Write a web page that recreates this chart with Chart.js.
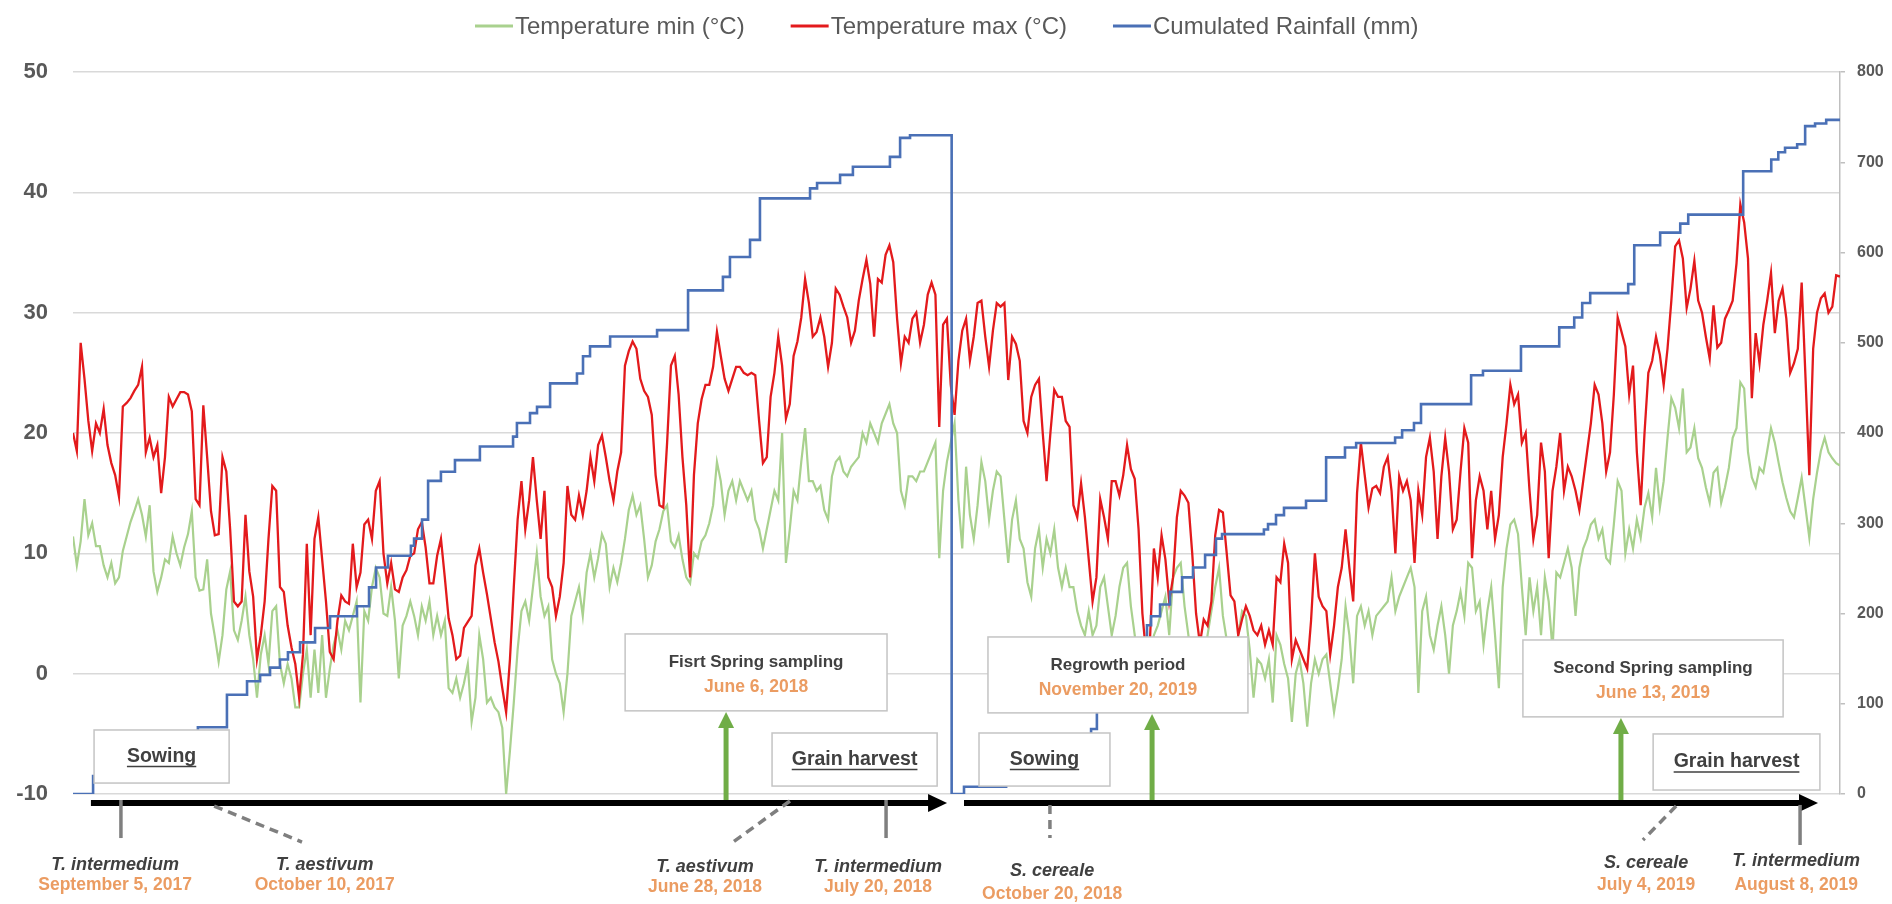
<!DOCTYPE html>
<html>
<head>
<meta charset="utf-8">
<script src="https://cdn.jsdelivr.net/npm/chart.js@4.4.0/dist/chart.umd.min.js"></script>
<style>
html,body{margin:0;padding:0;background:#ffffff;}
#wrap{width:1892px;height:904px;position:relative;}
</style>
</head>
<body>
<div id="wrap"><canvas id="c"></canvas></div>
<script>
// ---------------- DATA ----------------
const seriesLabels = ['Temperature min (°C)', 'Temperature max (°C)', 'Cumulated Rainfall (mm)'];
const periodDays = 730; // Sep 2017 -> Aug 2019, daily record read at regular intervals

// daily maximum temperature (°C), read at regular intervals across the two seasons
const tMax = [
20,18.5,27.5,24.5,21,18.5,20.8,20,22,19,
17.5,16.5,14.7,22.2,22.5,22.9,23.5,24,25.5,18.4,
19.6,18,19,15,18,23,22.2,22.8,23.4,23.4,
23.2,21.8,14.5,14,22.3,18,13.5,11.5,11.6,18,
16.8,12,
6,5.6,6,13.2,8.5,6.4,1.2,3.2,6,11.2,
15.6,15.2,7.2,6.8,4,2.2,0.8,-2,1.6,10.8,
3.2,11.2,13,9.5,6,1.8,1.2,4.4,6.5,6,
5.8,10.8,7.2,8.4,12.4,12.8,11.2,15.2,16,10,
7.5,9.2,7,6.8,8,8.6,9.8,10,12,12.6,
10.5,7.5,7.5,9.8,11.2,8,4.6,3.2,1.2,1.5,
3.8,4.3,4.8,9,10.4,8.4,6.6,4.6,2.6,1,
-1.2,-3.2,1.2,7.2,12.8,16,12,14.4,18,14.4,
11.2,15.2,8,7.2,4.8,6.4,9.2,15.6,13.2,12.8,
14.8,13.2,15.2,18,16,19,19.8,18,16,14.4,
16.8,18.4,25.6,26.8,27.6,27,24.5,23.5,23,
21.5,16.5,14,13.8,19.2,25.6,26.4,23.2,18,14,
8,16.5,20.8,22.8,24,24,25.5,28.4,26.4,24.5,
23.5,24.5,25.5,25.5,25,24.8,25,24.8,21,17.5,
18,23,25,28,25.6,21.2,22.4,26.4,27.6,29.6,
32.8,30.8,28,28.4,29.6,28,25.5,27.5,32,31.5,
30.5,29.6,27.5,28.5,31,32.8,34.4,32.4,28,32.8,
32.5,34.8,35.6,34.2,29.5,25.8,28,27.5,29.5,30,
27.5,29,31.5,32.5,31.5,20.5,29,29.5,24,21.5,
26,28.5,29.5,26,28,30.8,31,28,25.5,28.5,
30.8,30.5,30.8,24.4,28,27.4,26,21,20,23,
24,24.5,20,16,20,23.6,23,23,21,20.5,
14,13,15.8,13,9.5,6,8,14.5,13,11.2,
16,16,14.8,16.5,19,17,16.2,12,5,1.5,
3,10.4,8,11.5,9.5,6,8,13,15.2,14.8,
14.2,10,5,2.5,4.5,4,6,11.5,13.6,13.4,
10,6.5,
6,3.2,4.5,5.6,4.8,3.6,3.2,4,2.4,3.6,
2.4,8,7.6,10.8,9.2,1.2,2.8,2,1.2,0.4,
4.4,10,6.4,5.6,5.2,1.6,4,7.2,8.8,12,
8.8,6,15,19.2,16.5,13.8,15.4,15.6,15,17.2,
18,15.2,10,16.4,15.2,16,14.4,9.2,15.2,13.2,
18,19.6,16.8,11.2,16.4,19.6,16.8,12,12.8,16.8,
20.4,19.2,9.6,14.4,16.4,15.2,12,15.2,11.2,13.2,
18,20.8,24,22.4,23.2,19.2,20,15.2,11.2,13.2,
19.2,16.8,9.6,15.2,17.2,20,15.2,17.2,16.4,15.2,
13.6,16,18.4,20.8,24,23.2,20.8,16.8,18.4,23.2,
29.6,28.4,27.2,23.2,25.6,18.4,
14,20,25,26,28,26.5,24,27,31,35.5,
36,34.5,30.4,32,34.3,31,30,28,26.2,30.6,
27.1,27.5,29.5,30.2,31,34.1,39,37.5,34.5,22.9,
28.3,25.8,29,31,33.3,28.3,31,32,29.5,25,
25.8,27,32.5,24.6,16.5,27,30,31.2,31.6,30,
30.5,33.1,33
];

// daily minimum temperature (°C), same sampling
const tMin = [
11.4,9,11,14.5,11.5,12.5,10.6,10.6,9,8,
9.2,7.5,8,10.2,11.4,12.6,13.5,14.5,13.2,11.4,
14,8.5,6.8,8,9.5,9.2,11.4,10,9,10.5,
11.6,13.5,8,6.9,7,9.5,5,3.1,1,3.2,
7,8.5,
3.6,2.8,4.4,6.4,3.2,1.2,-2,1.6,3.2,0.8,
5.2,5.6,0.8,-0.8,0.8,-0.4,-2.8,-2.8,0,2,
-2,2,-1.6,3.2,-2,0.4,2.4,3.6,2,4.4,
3.6,4.8,6,-2.4,5.2,4.4,7.2,8.8,8,5,
4.8,7.2,4.4,-0.4,4,4.8,6,4.8,3.2,5.6,
4.4,6,3.2,4.8,3.2,4.4,-1.2,-1.6,-0.4,-2,
-0.8,0.8,-4,-2,3.2,1.2,-2.4,-2,-2.8,-3.2,
-4.5,-10,-6.4,-2.4,2,5.2,6,4.4,7.2,10,
6.4,4.8,5.6,1.2,0,-0.8,-3.2,0,4.8,6,
7.2,4.8,8.4,10,8,9.6,11.6,10.8,7.2,8.8,
7.6,9.2,11.2,13.6,14.8,13.2,14,11.2,8,
9,11,12,13.5,14,11,10.5,11.5,9.5,8,
7.5,10,9.6,11,11.5,12.5,14,17.6,16,13.2,
15.2,16,14.4,16,15.2,14.4,15.2,12.8,12,10.4,
12,13.6,15.2,14.4,20,9.2,12,15.2,14.4,17.6,
20.4,16,16,15.2,15.6,13.6,12.8,16.4,17.6,18,
16.8,16.4,17.2,17.6,18,20,19.2,20.8,20,19.2,
20.8,21.6,22.4,20.8,20,15.2,14,16.4,16.4,16,
16.8,16.8,17.6,18.4,19.2,9.6,15.2,17.6,19.2,20.8,
14.4,10.4,17.2,13.2,11.2,14,17.6,16,12.8,15.2,
16.8,16.4,12.8,9.2,12.8,14.4,11.2,10.4,7.6,6.4,
10.4,12,8.8,11.2,10,12,8.8,7.2,8.8,7.2,
7.2,5.2,4,3.2,5.2,3.2,4,7.2,8,5.6,
3.2,4.8,7.2,8.8,9.2,5.6,3.2,0,-2.8,-1.6,
0,3.2,4,5.2,6.4,3.2,8,8.8,9.2,5.6,
3.2,0,-0.8,-2,0.8,3.2,5.2,7.2,8.8,4.8,
2.8,1.2,
1.2,3.2,5.2,4.8,2,-2,1.2,0.8,-0.4,1.2,
-2.4,3.2,2.4,0.8,-0.4,-4,0,1.2,-0.8,-4.4,
-0.8,1.2,0,1.2,1.6,-0.8,-3.2,-1.2,1.2,5.6,
3.2,-0.8,4.8,5.6,4,5.2,3.2,4.8,5.2,5.6,
6,8,5.2,6.4,7.2,8,8.8,7.2,-1.6,5.2,
6.4,3.2,2,4,5.6,3.2,0,4,5.2,6.8,
4.8,9.2,8.8,5.2,6,2.4,5.2,7.2,3.2,-1.2,
7.2,10.4,12.4,12.8,11.6,7.2,3.2,8,5.2,7.2,
3.2,8,6,2,8.4,8,9.2,10.4,8.8,4.8,
8.8,10.4,11.2,12.4,12.8,11.2,12,9.6,9.2,12.4,
16,15.2,10,12,10.4,12.8,
11.3,13.8,15,13,17.1,13.8,16,19.6,22.9,22.1,
20.4,23.7,18.4,18.8,20.4,17.9,17.1,15.5,14.2,16.7,
17.1,14.2,15.5,17.1,19.6,20.4,24.2,23.7,18.4,16.3,
15.5,17.1,16.7,18.5,20.4,19.2,17.5,15.9,14.6,13.5,
13,14.6,16.3,13.8,11.3,14.5,16.7,18.5,19.6,18.4,
17.9,17.5,17.3
];

// cumulated rainfall (mm): day of each rain step and running total after it (reset Sep 2018)
const rainDay = [
0,8.3,23.5,40.1,51.6,63.6,71.9,77.3,81.4,85.5,
88.8,93.8,100.0,106.2,117.3,122.3,125.2,130.1,139.6,140.9,
144.2,146.7,152.0,157.8,168.1,181.8,183.4,188.8,191.7,197.1,
208.2,210.7,213.6,221.9,241.3,254.1,268.5,271.4,279.7,283.8,
304.5,307.4,316.9,322.2,337.5,341.7,345.8,363.0,368.1,
385.5,399.5,411.9,420.6,423.0,430.5,437.5,443.7,445.4,449.1,
453.2,458.2,462.7,467.7,472.2,474.7,492.0,493.7,497.0,500.3,
509.4,517.7,525.5,530.1,546.2,549.1,554.0,556.9,577.6,582.5,
598.2,614.0,620.2,623.5,626.8,642.5,645.0,655.7,664.0,667.3,
690.0,701.6,704.5,707.3,712.3,715.6,719.7,724.3,730
];
const rainCum = [
0,20,35,52,74,110,125,132,140,149,
157,168,184,197,208,229,251,264,275,283,
304,347,357,370,385,396,411,422,429,455,
466,485,496,507,514,558,573,595,614,660,
671,677,686,695,706,727,730,0,8,
14,35,55,72,92,125,160,187,197,210,
224,240,251,265,283,288,293,299,309,317,
325,373,384,389,395,403,411,432,464,469,
496,517,528,544,555,565,608,622,632,642,
690,703,711,716,720,740,743,747,748
];

// axis ranges / ticks
const tempRange = [-10, 50];
const tempStep = 10;
const rainRange = [0, 800];
const rainStep = 100;

// ---------------- ANNOTATIONS (schematic timeline, in day / °C units) ----------------
const noteBoxes = [
  {d:[8.7,64.5],   v:[-4.68,-9.09], title:'Sowing', underline:true},
  {d:[228.1,336.3],v:[3.30,-3.09],  title:'Fisrt Spring sampling', date:'June 6, 2018'},
  {d:[288.8,357.0],v:[-4.93,-9.34], title:'Grain harvest', underline:true},
  {d:[374.3,428.4],v:[-4.93,-9.34], title:'Sowing', underline:true},
  {d:[378.0,485.4],v:[3.05,-3.26],  title:'Regrowth period', date:'November 20, 2019'},
  {d:[599.0,706.5],v:[2.80,-3.59],  title:'Second Spring sampling', date:'June 13, 2019'},
  {d:[652.8,721.7],v:[-5.01,-9.67], title:'Grain harvest', underline:true}
];
const samplingArrows = [ {d:269.8, top:-3.18}, {d:445.8, top:-3.35}, {d:639.5, top:-3.68} ];
const timelines = [ {d0:7.4, d1:361.1}, {d0:368.1, d1:720.9} ];
const timelineLevel = -10.75;
const marks = [
  {d0:19.8, v0:-10.5, d1:19.8, v1:-13.66, dash:false},
  {d0:58.3, v0:-11.0, d1:94.6, v1:-13.99, dash:true},
  {d0:296.2,v0:-10.58,d1:272.7,v1:-13.99, dash:true},
  {d0:335.9,v0:-10.5, d1:335.9,v1:-13.66, dash:false},
  {d0:403.6,v0:-10.91,d1:403.6,v1:-13.66, dash:true},
  {d0:662.3,v0:-11.0, d1:648.6,v1:-13.82, dash:true},
  {d0:713.5,v0:-10.91,d1:713.5,v1:-14.24, dash:false}
];
const markLabels = [
  {d:17.4,  v:[-15.90,-17.56], name:'T. intermedium', date:'September 5, 2017'},
  {d:104.0, v:[-15.90,-17.56], name:'T. aestivum',    date:'October 10, 2017'},
  {d:261.1, v:[-16.07,-17.73], name:'T. aestivum',    date:'June 28, 2018'},
  {d:332.6, v:[-16.07,-17.73], name:'T. intermedium', date:'July 20, 2018'},
  {d:404.5, v:[-16.40,-18.31], name:'S. cereale',     date:'October 20, 2018'},
  {d:649.9, v:[-15.73,-17.56], name:'S. cereale',     date:'July 4, 2019'},
  {d:711.9, v:[-15.57,-17.56], name:'T. intermedium', date:'August 8, 2019'}
];

// ---------------- STYLE ----------------
const FONT = '"Liberation Sans", Arial, sans-serif';
const colMin = '#a9d18e', colMax = '#e31a1c', colRain = '#4a70b6';
const colText = '#404040', colAxis = '#595959', colDate = '#eb9c62';

const tempX = tMax.map((_, i) => i * periodDays / (tMax.length - 1));

function drawText(ctx, s, px, py, font, color, underline) {
  ctx.font = font; ctx.fillStyle = color;
  ctx.textAlign = 'center'; ctx.textBaseline = 'middle';
  ctx.fillText(s, px, py);
  if (underline) {
    const w = ctx.measureText(s).width;
    ctx.strokeStyle = color; ctx.lineWidth = 1.6; ctx.setLineDash([]);
    ctx.beginPath(); ctx.moveTo(px - w/2, py + 10); ctx.lineTo(px + w/2, py + 10); ctx.stroke();
  }
}

const annotPlugin = {
  id: 'annot',
  afterDatasetsDraw(chart) {
    const ctx = chart.ctx, xs = chart.scales.x, ys = chart.scales.y;
    const X = d => xs.getPixelForValue(d), Y = v => ys.getPixelForValue(v);
    ctx.save();
    // boxes
    noteBoxes.forEach(b => {
      const x0 = X(b.d[0]), x1 = X(b.d[1]), y0 = Y(b.v[0]), y1 = Y(b.v[1]);
      ctx.fillStyle = '#ffffff'; ctx.fillRect(x0, y0, x1 - x0, y1 - y0);
      ctx.strokeStyle = '#c4c4c4'; ctx.lineWidth = 1.5; ctx.setLineDash([]);
      ctx.strokeRect(x0, y0, x1 - x0, y1 - y0);
      const cx = (x0 + x1) / 2;
      if (b.date) {
        drawText(ctx, b.title, cx, y0 + 28, 'bold 17px ' + FONT, colText, false);
        drawText(ctx, b.date, cx, y0 + 53, 'bold 17.5px ' + FONT, colDate, false);
      } else {
        drawText(ctx, b.title, cx, (y0 + y1) / 2, 'bold 19.5px ' + FONT, colText, b.underline);
      }
    });
    // timeline arrows
    const ty = Y(timelineLevel);
    timelines.forEach(t => {
      const a = X(t.d0), b = X(t.d1);
      ctx.strokeStyle = '#000'; ctx.lineWidth = 6; ctx.setLineDash([]);
      ctx.beginPath(); ctx.moveTo(a, ty); ctx.lineTo(b - 16, ty); ctx.stroke();
      ctx.fillStyle = '#000';
      ctx.beginPath(); ctx.moveTo(b, ty); ctx.lineTo(b - 19, ty - 9); ctx.lineTo(b - 19, ty + 9); ctx.closePath(); ctx.fill();
    });
    // sampling arrows (green)
    samplingArrows.forEach(s => {
      const px = X(s.d), top = Y(s.top), bot = ty - 3;
      ctx.strokeStyle = '#70ad47'; ctx.lineWidth = 5; ctx.setLineDash([]);
      ctx.beginPath(); ctx.moveTo(px, bot); ctx.lineTo(px, top + 14); ctx.stroke();
      ctx.fillStyle = '#70ad47';
      ctx.beginPath(); ctx.moveTo(px, top); ctx.lineTo(px - 8, top + 16); ctx.lineTo(px + 8, top + 16); ctx.closePath(); ctx.fill();
    });
    // marks under the timeline
    marks.forEach(m => {
      ctx.strokeStyle = '#7f7f7f'; ctx.lineWidth = 3.5;
      ctx.setLineDash(m.dash ? [9, 6] : []);
      ctx.beginPath(); ctx.moveTo(X(m.d0), Y(m.v0)); ctx.lineTo(X(m.d1), Y(m.v1)); ctx.stroke();
    });
    ctx.setLineDash([]);
    markLabels.forEach(l => {
      drawText(ctx, l.name, X(l.d), Y(l.v[0]), 'italic bold 18px ' + FONT, colText, false);
      drawText(ctx, l.date, X(l.d), Y(l.v[1]), 'bold 17.5px ' + FONT, colDate, false);
    });
    ctx.restore();
  },
  afterDraw(chart) {
    // legend (line samples + text)
    const ctx = chart.ctx;
    ctx.save();
    ctx.font = '24px ' + FONT;
    ctx.textAlign = 'left'; ctx.textBaseline = 'middle';
    let lx = 475; const ly = 26;
    seriesLabels.forEach(lab => {
      const ds = chart.data.datasets.find(d => d.label === lab);
      ctx.strokeStyle = ds.borderColor; ctx.lineWidth = 3;
      ctx.beginPath(); ctx.moveTo(lx, ly); ctx.lineTo(lx + 38, ly); ctx.stroke();
      ctx.fillStyle = colAxis;
      ctx.fillText(lab, lx + 40, ly + 1);
      lx += 40 + ctx.measureText(lab).width + 46;
    });
    ctx.restore();
  }
};

new Chart(document.getElementById('c'), {
  type: 'line',
  data: {
    datasets: [
      { label: seriesLabels[2], yAxisID: 'y1', order: 0,
        data: rainDay.map((d, i) => ({x: d, y: rainCum[i]})),
        borderColor: colRain, borderWidth: 2.6, stepped: true, pointRadius: 0, fill: false },
      { label: seriesLabels[1], yAxisID: 'y', order: 1,
        data: tMax.map((v, i) => ({x: tempX[i], y: v})),
        borderColor: colMax, borderWidth: 2.3, tension: 0, pointRadius: 0, fill: false },
      { label: seriesLabels[0], yAxisID: 'y', order: 2,
        data: tMin.map((v, i) => ({x: tempX[i], y: v})),
        borderColor: colMin, borderWidth: 2.2, tension: 0, pointRadius: 0, fill: false }
    ]
  },
  options: {
    responsive: true, maintainAspectRatio: false, animation: false,
    layout: { padding: { top: 72, bottom: 110, left: 0, right: 0 } },
    plugins: { legend: { display: false }, tooltip: { enabled: false } },
    scales: {
      x: { type: 'linear', min: 0, max: periodDays, display: false },
      y: { position: 'left', min: tempRange[0], max: tempRange[1],
           ticks: { stepSize: tempStep, color: colAxis, padding: 25,
                    font: { family: FONT, size: 22, weight: 'bold' } },
           grid: { color: '#d9d9d9', lineWidth: 1.5, drawTicks: false },
           border: { display: false },
           afterFit: s => { s.width = 73; } },
      y1: { position: 'right', min: rainRange[0], max: rainRange[1],
            ticks: { stepSize: rainStep, color: colAxis, padding: 12,
                     font: { family: FONT, size: 16, weight: 'bold' } },
            grid: { drawOnChartArea: false, color: '#bfbfbf', tickLength: 5, lineWidth: 1.5 },
            border: { display: true, color: '#bfbfbf', width: 1.5 },
            afterFit: s => { s.width = 52; } }
    }
  },
  plugins: [annotPlugin]
});
</script>
</body>
</html>
